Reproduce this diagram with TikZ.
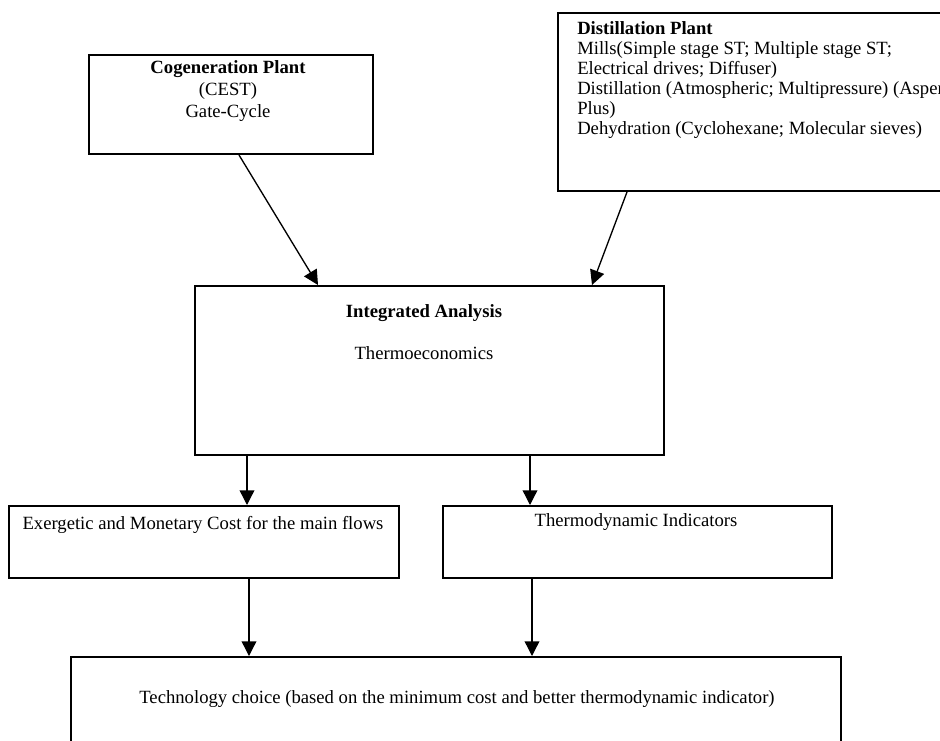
\documentclass[tikz,border=0pt]{standalone}
\usepackage{fontspec}
\setmainfont{Liberation Serif}
\usetikzlibrary{arrows.meta,calc}
\begin{document}
\begin{tikzpicture}[x=0.75pt, y=-0.75pt,
    box/.style={draw, line width=1.5pt, rectangle, inner sep=0pt, anchor=north west},
    txt/.style={font=\fontsize{14}{15}\selectfont, inner sep=0pt},
    arr/.style={line width=1pt, -{Triangle[length=11pt, width=11pt]}}]
    \useasboundingbox (0,0) rectangle (940,740);
    \clip (0,0) rectangle (940,740);
    \fill[white] (0,0) rectangle (940,740);
    \node[box, minimum width=284*0.75pt, minimum height=99*0.75pt] (cogen) at (88,54) {};
    \node[box, minimum width=500*0.75pt, minimum height=178*0.75pt] (distil) at (557,12) {};
    \node[box, minimum width=469*0.75pt, minimum height=169*0.75pt] (integ) at (194,285) {};
    \node[box, minimum width=390*0.75pt, minimum height=72*0.75pt] (exer) at (8,505) {};
    \node[box, minimum width=389*0.75pt, minimum height=72*0.75pt] (thermo) at (442,505) {};
    \node[box, minimum width=770*0.75pt, minimum height=120*0.75pt] (tech) at (70,656) {};
    \node[txt, align=center, anchor=north, font=\fontsize{14}{16.5}\selectfont] (cogentext) at (228,60) {\textbf{Cogeneration Plant}\\(CEST)\\Gate-Cycle};
    \node[txt, align=left, anchor=north west] (distiltext) at (577,21) {\textbf{Distillation Plant}\\Mills(Simple stage ST; Multiple stage ST;\\Electrical drives; Diffuser)\\Distillation (Atmospheric; Multipressure) (Aspen\\Plus)\\Dehydration (Cyclohexane; Molecular sieves)};
    \node[txt, align=center, anchor=north] (integtext) at (424,304) {\textbf{Integrated Analysis}\\[16.5pt]Thermoeconomics};
    \node[txt] (exertext) at (203,525) {Exergetic and Monetary Cost for the main flows};
    \node[txt] (thermotext) at (636,522) {Thermodynamic Indicators};
    \node[txt] (techtext) at (457,699) {Technology choice (based on the minimum cost and better thermodynamic indicator)};
    \draw[arr] ($(cogen.south west)+(151,0)$) -- ($(integ.north west)+(124,0)$);
    \draw[arr] ($(distil.south west)+(70,0)$) -- ($(integ.north west)+(398,0)$);
    \draw[arr] ($(integ.south west)+(53,0)$) -- ($(exer.north west)+(239,0)$);
    \draw[arr] ($(integ.south west)+(336,0)$) -- ($(thermo.north west)+(88,0)$);
    \draw[arr] ($(exer.south west)+(241,0)$) -- ($(tech.north west)+(179,0)$);
    \draw[arr] ($(thermo.south west)+(90,0)$) -- ($(tech.north west)+(462,0)$);
\end{tikzpicture}
\end{document}
